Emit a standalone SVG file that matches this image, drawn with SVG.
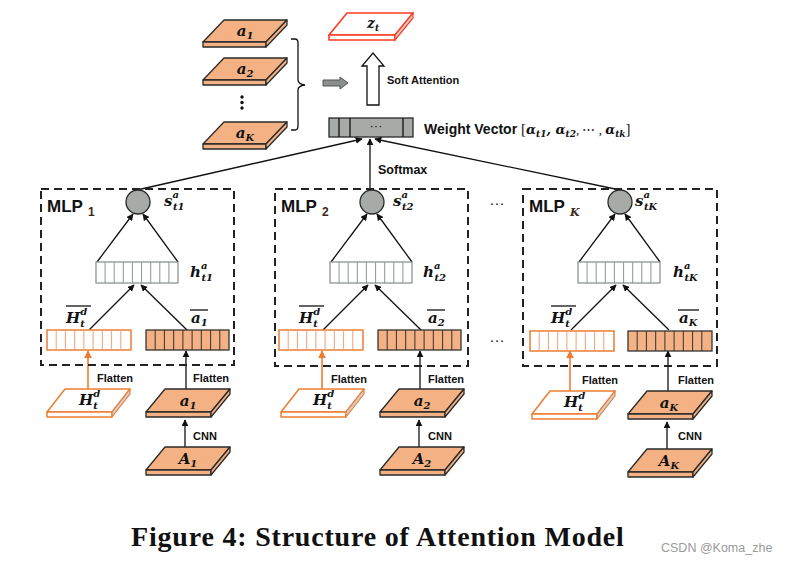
<svg xmlns="http://www.w3.org/2000/svg" xmlns:xlink="http://www.w3.org/1999/xlink" width="790" height="563" viewBox="0 0 790 563">
<style>
.plate{fill:#f4b183;stroke:#2a2a2a;stroke-width:1.3;stroke-linejoin:round}
.hplate{fill:#fff;stroke:#ed7d31;stroke-width:1.5;stroke-linejoin:round}
.hside{fill:#cfcfcf;stroke:#ed7d31;stroke-width:1.2;stroke-linejoin:round}
.zplate{fill:#fff;stroke:#ff3b1f;stroke-width:1.6;stroke-linejoin:round}
.zside{fill:#cfcfcf;stroke:#ff3b1f;stroke-width:1.2}
.mlp{fill:none;stroke:#222;stroke-width:2;stroke-dasharray:8,5}
.circ{fill:#a6aba8;stroke:#2a2a2a;stroke-width:1.3}
.hbar{fill:#fff;stroke:#8c9592;stroke-width:1.3}
.Hbar{fill:#fff;stroke:#ed7d31;stroke-width:1.5}
.abar{fill:#f4b183;stroke:#333;stroke-width:1.3}
.ln{fill:none;stroke:#111;stroke-width:1.3}
.lno{fill:none;stroke:#ed7d31;stroke-width:1.6}
.math{font-family:"DejaVu Serif",serif;font-style:italic;font-weight:bold;fill:#111;font-size:15px}
.s{font-size:10px}
.lab{font-family:"Liberation Sans",Arial,sans-serif;font-weight:bold;fill:#111}
</style>
<defs>
<marker id="ah" viewBox="0 0 10 10" refX="9" refY="5" markerWidth="7" markerHeight="7" orient="auto" markerUnits="userSpaceOnUse"><path d="M0,0L10,5L0,10z" fill="#111"/></marker>
<marker id="aho" viewBox="0 0 10 10" refX="9" refY="5" markerWidth="8" markerHeight="8" orient="auto" markerUnits="userSpaceOnUse"><path d="M0,0L10,5L0,10z" fill="#ed7d31"/></marker>
<g id="div9">
<path d="M9.2,0V20M18.4,0V20M27.7,0V20M36.9,0V20M46.1,0V20M55.3,0V20M64.6,0V20M73.8,0V20"/>
</g>
<g id="div9h">
<path d="M9.1,0V21M18.2,0V21M27.3,0V21M36.4,0V21M45.6,0V21M54.7,0V21M63.8,0V21M72.9,0V21"/>
</g>
<g id="oplate">
<path class="plate" d="M0,0H63L42,22H-21Z"/>
<path class="plate" d="M-21,22H42V27H-21Z"/>
<path class="plate" d="M42,22L63,0V5L42,27Z"/>
</g>
<g id="oplate2">
<path class="plate" d="M0,0H65L46,23H-19Z"/>
<path class="plate" d="M-19,23H46V28H-19Z"/>
<path class="plate" d="M46,23L65,0V5L46,28Z"/>
</g>
<g id="hplate">
<path class="hplate" d="M0,0H65L47,23H-18Z"/>
<path class="hplate" d="M-18,23H47V28H-18Z"/>
<path class="hside" d="M47,23L65,0V5L47,28Z"/>
</g>
</defs>

<!-- top-left stack -->
<g id="top-a1"><use xlink:href="#oplate" x="224" y="20"/><text class="math" x="245" y="36" text-anchor="middle">a<tspan class="s" dy="3">1</tspan></text></g>
<g id="top-a2"><use xlink:href="#oplate" x="224" y="58"/><text class="math" x="245" y="74" text-anchor="middle">a<tspan class="s" dy="3">2</tspan></text></g>
<g id="top-dots"><circle cx="242" cy="97" r="1.7" fill="#111"/><circle cx="242" cy="102.5" r="1.7" fill="#111"/><circle cx="242" cy="108" r="1.7" fill="#111"/></g>
<g id="top-aK"><use xlink:href="#oplate" x="224" y="122"/><text class="math" x="245" y="138" text-anchor="middle">a<tspan class="s" dy="3">K</tspan></text></g>
<g id="brace"><path class="ln" d="M291,39H295Q298,39 298,43V80Q298,84 305,85Q298,86 298,90V126Q298,130 295,130H291" stroke-width="1.4"/></g>
<g id="gray-arrow"><path d="M323,80H340V77L348,83L340,89V86H323Z" fill="#8a8f8d" stroke="#555" stroke-width="1"/></g>

<!-- z_t -->
<g id="zt">
<path class="zplate" d="M347,13H413L395,35H329Z"/>
<path class="zplate" d="M329,35H395V40H329Z"/>
<path class="zside" d="M395,35L413,13V18L395,40Z"/>
<text class="math" x="373" y="28" text-anchor="middle" style="font-size:14px">z<tspan class="s" style="font-size:9px" dy="3">t</tspan></text>
</g>
<g id="soft-attention">
<path d="M367,105V66H362L373,53L384,66H379V105Z" fill="#fff" stroke="#111" stroke-width="1.3"/>
<text class="lab" x="387" y="84" font-size="11">Soft Attention</text>
</g>

<!-- weight vector -->
<g id="weight-vector">
<rect x="329" y="118" width="84" height="19" fill="#a6aba8" stroke="#2a2a2a" stroke-width="1.3"/>
<path class="ln" d="M339,118V137M350,118V137M403,118V137"/>
<text x="376" y="130" font-size="13" text-anchor="middle" font-family="Liberation Sans,sans-serif" fill="#222">···</text>
<text class="lab" x="424" y="134" font-size="14">Weight Vector <tspan font-family="Liberation Serif,serif" font-weight="normal" font-size="15">[</tspan><tspan class="math" style="font-size:13px">α<tspan class="s" style="font-size:9px" dy="3">t1</tspan><tspan dy="-3">, α</tspan><tspan class="s" style="font-size:9px" dy="3">t2</tspan><tspan dy="-3" font-style="normal" font-weight="normal" font-family="Liberation Serif,serif">, ⋯ , </tspan>α<tspan class="s" style="font-size:9px" dy="3">tk</tspan></tspan><tspan dy="-3" font-family="Liberation Serif,serif" font-weight="normal" font-size="15">]</tspan></text>
</g>

<!-- connectors -->
<g id="connectors">
<path class="ln" d="M137,190L362,139" marker-end="url(#ah)"/>
<path class="ln" d="M370,190V139" marker-end="url(#ah)"/>
<path class="ln" d="M620,190L375,139" marker-end="url(#ah)"/>
<path class="ln" d="M97,262L133,214" marker-end="url(#ah)"/>
<path class="ln" d="M178,262L143,214" marker-end="url(#ah)"/>
<path class="ln" d="M89,330L134,285" marker-end="url(#ah)"/>
<path class="ln" d="M187,330L141,285" marker-end="url(#ah)"/>
<path class="lno" d="M88,390V351" marker-end="url(#aho)"/>
<path class="ln" d="M186,390V351" marker-end="url(#ah)"/>
<path class="ln" d="M185,447V420" marker-end="url(#ah)"/>
<path class="ln" d="M331,262L367,214" marker-end="url(#ah)"/>
<path class="ln" d="M412,262L377,214" marker-end="url(#ah)"/>
<path class="ln" d="M323,330L368,285" marker-end="url(#ah)"/>
<path class="ln" d="M421,330L375,285" marker-end="url(#ah)"/>
<path class="lno" d="M322,390V351" marker-end="url(#aho)"/>
<path class="ln" d="M420,390V351" marker-end="url(#ah)"/>
<path class="ln" d="M419,447V420" marker-end="url(#ah)"/>
<path class="ln" d="M579,262L615,214" marker-end="url(#ah)"/>
<path class="ln" d="M660,262L625,214" marker-end="url(#ah)"/>
<path class="ln" d="M571,330L616,285" marker-end="url(#ah)"/>
<path class="ln" d="M669,330L623,285" marker-end="url(#ah)"/>
<path class="lno" d="M570,391V351" marker-end="url(#aho)"/>
<path class="ln" d="M668,391V351" marker-end="url(#ah)"/>
<path class="ln" d="M667,449V422" marker-end="url(#ah)"/>
</g>
<text class="lab" x="378" y="174" font-size="12.5">Softmax</text>

<!-- column 1 -->
<g id="mlp1">
<rect class="mlp" x="41" y="189" width="193" height="176"/>
<text class="lab" x="47" y="212" font-size="17">MLP<tspan font-size="12" dx="5" dy="4" fill="#3a2a1a">1</tspan></text>
</g>
<g id="s1"><circle class="circ" cx="138" cy="202" r="12"/><text class="math" x="164" y="206">s<tspan class="s" dy="-8">a</tspan><tspan class="s" dx="-6" dy="12">t1</tspan></text></g>
<g id="h1"><rect class="hbar" x="96" y="262" width="82" height="21"/><use xlink:href="#div9h" x="96" y="262" stroke="#8c9592" stroke-width="1"/><text class="math" x="190" y="277">h<tspan class="s" dy="-8">a</tspan><tspan class="s" dx="-6" dy="12">t1</tspan></text></g>
<g id="Hbar1"><rect class="Hbar" x="47" y="330" width="84" height="20"/><use xlink:href="#div9" x="47" y="330" stroke="#f0a070" stroke-width="1"/><text class="math" x="66" y="323">H<tspan class="s" dy="-8">d</tspan><tspan class="s" dx="-7" dy="12">t</tspan></text><path class="ln" d="M66,306H91"/></g>
<g id="abar1"><rect class="abar" x="146" y="330" width="83" height="20"/><use xlink:href="#div9" x="146" y="330" stroke="#333" stroke-width="1"/><text class="math" x="191" y="323">a<tspan class="s" dy="3">1</tspan></text><path class="ln" d="M190,310H208"/></g>
<g id="Hplate1"><use xlink:href="#hplate" x="65" y="389"/><text class="math" x="79" y="405">H<tspan class="s" dy="-8">d</tspan><tspan class="s" dx="-7" dy="12">t</tspan></text><text class="lab" x="97" y="382" font-size="11">Flatten</text></g>
<g id="aplate1"><use xlink:href="#oplate2" x="165" y="389"/><text class="math" x="188" y="406" text-anchor="middle">a<tspan class="s" dy="3">1</tspan></text><text class="lab" x="193" y="382" font-size="11">Flatten</text></g>
<g id="Aplate1"><use xlink:href="#oplate2" x="165" y="447"/><text class="math" x="188" y="464" text-anchor="middle">A<tspan class="s" dy="3">1</tspan></text><text class="lab" x="193" y="440" font-size="11">CNN</text></g>

<!-- column 2 -->
<g id="mlp2">
<rect class="mlp" x="275" y="189" width="193" height="177"/>
<text class="lab" x="281" y="212" font-size="17">MLP<tspan font-size="12" dx="5" dy="4" fill="#3a2a1a">2</tspan></text>
</g>
<g id="s2"><circle class="circ" cx="372" cy="202" r="12"/><text class="math" x="393" y="206">s<tspan class="s" dy="-8">a</tspan><tspan class="s" dx="-6" dy="12">t2</tspan></text></g>
<g id="h2"><rect class="hbar" x="330" y="262" width="82" height="21"/><use xlink:href="#div9h" x="330" y="262" stroke="#8c9592" stroke-width="1"/><text class="math" x="423" y="277">h<tspan class="s" dy="-8">a</tspan><tspan class="s" dx="-6" dy="12">t2</tspan></text></g>
<g id="Hbar2"><rect class="Hbar" x="279" y="330" width="84" height="20"/><use xlink:href="#div9" x="279" y="330" stroke="#f0a070" stroke-width="1"/><text class="math" x="299" y="323">H<tspan class="s" dy="-8">d</tspan><tspan class="s" dx="-7" dy="12">t</tspan></text><path class="ln" d="M299,306H324"/></g>
<g id="abar2"><rect class="abar" x="378" y="330" width="83" height="20"/><use xlink:href="#div9" x="378" y="330" stroke="#333" stroke-width="1"/><text class="math" x="428" y="323">a<tspan class="s" dy="3">2</tspan></text><path class="ln" d="M427,310H445"/></g>
<g id="Hplate2"><use xlink:href="#hplate" x="299" y="389"/><text class="math" x="313" y="405">H<tspan class="s" dy="-8">d</tspan><tspan class="s" dx="-7" dy="12">t</tspan></text><text class="lab" x="331" y="383" font-size="11">Flatten</text></g>
<g id="aplate2"><use xlink:href="#oplate2" x="399" y="389"/><text class="math" x="422" y="406" text-anchor="middle">a<tspan class="s" dy="3">2</tspan></text><text class="lab" x="428" y="383" font-size="11">Flatten</text></g>
<g id="Aplate2"><use xlink:href="#oplate2" x="399" y="447"/><text class="math" x="422" y="464" text-anchor="middle">A<tspan class="s" dy="3">2</tspan></text><text class="lab" x="428" y="440" font-size="11">CNN</text></g>

<!-- column K -->
<g id="mlpK">
<rect class="mlp" x="523" y="189" width="194" height="177"/>
<text class="lab" x="529" y="212" font-size="17">MLP<tspan class="math" dx="5" dy="4" style="font-size:11px;fill:#3a2a1a">K</tspan></text>
</g>
<g id="sK"><circle class="circ" cx="620" cy="202" r="12"/><text class="math" x="635" y="206">s<tspan class="s" dy="-8">a</tspan><tspan class="s" dx="-6" dy="12">tK</tspan></text></g>
<g id="hK"><rect class="hbar" x="578" y="262" width="82" height="21"/><use xlink:href="#div9h" x="578" y="262" stroke="#8c9592" stroke-width="1"/><text class="math" x="673" y="277">h<tspan class="s" dy="-8">a</tspan><tspan class="s" dx="-6" dy="12">tK</tspan></text></g>
<g id="HbarK"><rect class="Hbar" x="530" y="331" width="84" height="20"/><use xlink:href="#div9" x="530" y="331" stroke="#f0a070" stroke-width="1"/><text class="math" x="551" y="323">H<tspan class="s" dy="-8">d</tspan><tspan class="s" dx="-7" dy="12">t</tspan></text><path class="ln" d="M551,306H576"/></g>
<g id="abarK"><rect class="abar" x="628" y="331" width="84" height="20"/><use xlink:href="#div9" x="628" y="331" stroke="#333" stroke-width="1"/><text class="math" x="679" y="323">a<tspan class="s" dy="3">K</tspan></text><path class="ln" d="M678,310H699"/></g>
<g id="HplateK"><use xlink:href="#hplate" x="550" y="391"/><text class="math" x="564" y="407">H<tspan class="s" dy="-8">d</tspan><tspan class="s" dx="-7" dy="12">t</tspan></text><text class="lab" x="582" y="384" font-size="11">Flatten</text></g>
<g id="aplateK"><use xlink:href="#oplate2" x="647" y="391"/><text class="math" x="669" y="408" text-anchor="middle">a<tspan class="s" dy="3">K</tspan></text><text class="lab" x="678" y="384" font-size="11">Flatten</text></g>
<g id="AplateK"><use xlink:href="#oplate2" x="647" y="449"/><text class="math" x="669" y="466" text-anchor="middle">A<tspan class="s" dy="3">K</tspan></text><text class="lab" x="678" y="440" font-size="11">CNN</text></g>

<!-- ellipses between columns -->
<g id="dots-top"><text x="497" y="208" font-size="15" text-anchor="middle" font-family="Liberation Sans,sans-serif" fill="#111">···</text></g>
<g id="dots-bottom"><text x="497" y="345" font-size="15" text-anchor="middle" font-family="Liberation Sans,sans-serif" fill="#111">···</text></g>

<text x="131" y="546" font-size="28" font-weight="bold" letter-spacing="0.8" font-family="Liberation Serif,serif" fill="#111">Figure 4: Structure of Attention Model</text>
<text x="661" y="552" font-size="12.5" font-family="Liberation Sans,sans-serif" fill="#9a9a9a">CSDN @Koma_zhe</text>
</svg>
